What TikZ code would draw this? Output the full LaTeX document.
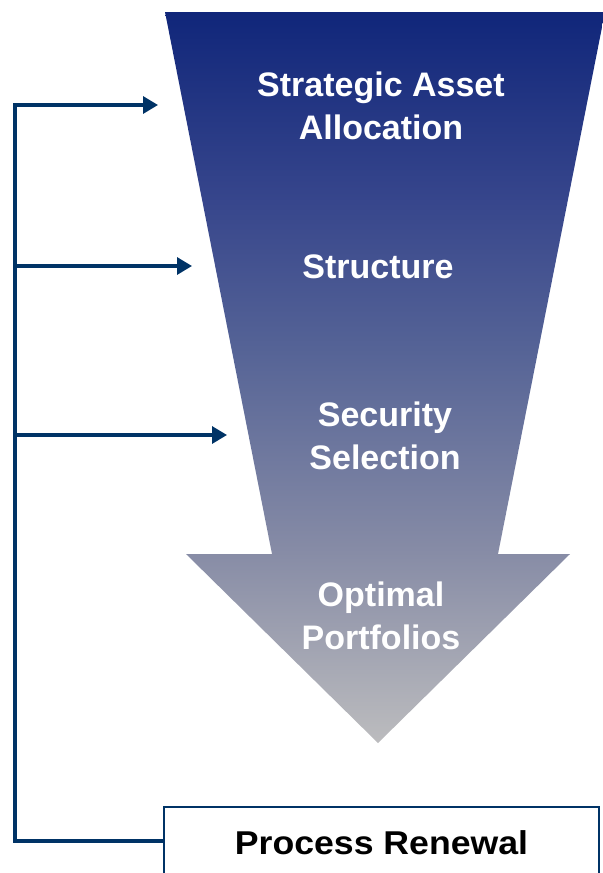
\documentclass[tikz,border=0pt]{standalone}
\usepackage{fontspec}
\setmainfont{Liberation Sans}
\newfontfamily\widefont[FakeStretch=1.08]{Liberation Sans}
\usetikzlibrary{arrows.meta,positioning}

\definecolor{navy}{RGB}{0,51,102}
\definecolor{ftop}{RGB}{16,38,122}
\definecolor{fupper}{RGB}{55,70,140}
\definecolor{fmiddle}{RGB}{85,99,150}
\definecolor{flower}{RGB}{135,140,166}
\definecolor{fbottom}{RGB}{188,188,190}

% vertical fade of the funnel, from dark blue at the top to grey at the tip
\pgfdeclareverticalshading{funnel}{100bp}{color(0bp)=(fbottom); color(25bp)=(fbottom);
  color(38bp)=(flower); color(52bp)=(fmiddle); color(62bp)=(fupper);
  color(75bp)=(ftop); color(100bp)=(ftop)}

\tikzset{x=0.5pt, y=-0.5pt, % one unit is one pixel, y runs downwards
>={Triangle[length=7.5pt,width=8.5pt]}, % filled heads on the feedback arrows
stage/.style={text=white, font=\fontsize{17}{21.5}\selectfont\bfseries, align=center, anchor=base}, % labels inside the funnel, placed by their last baseline
feedback/.style={->, draw=navy, line width=1.6pt}, % lines coming back from the renewal box
renewbox/.style={draw=navy, line width=1pt, fill=white, minimum width=217.5pt, minimum height=36pt,
  font=\widefont\fontsize{16.5}{19}\selectfont\bfseries}, % box at the bottom
}

\begin{document}
\begin{tikzpicture}
\useasboundingbox (0,0) rectangle (603,873);

% funnel with its arrow head
\shade[shading=funnel] (165,12) -- (605,12) -- (498,554) -- (570,554) -- (378,743)
  -- (186,554) -- (272,554) -- cycle;

\node[stage] (saa) at (381,139) {Strategic Asset\\Allocation};
\node[stage] (struct) at (378,278) {Structure};
\node[stage] (sel) at (385,469) {Security\\Selection};
\node[stage] (opt) at (381,649) {Optimal\\Portfolios};

\node[renewbox] (renew) at (381.5,843) {Process Renewal};

% arrow ends and the rail on the left
\coordinate (in1) at (158,105);
\coordinate (in2) at (192,266);
\coordinate (in3) at (227,435);
\coordinate (rail) at (15,105);

\draw[feedback] ([yshift=1pt]renew.west) -| (rail) -- (in1);
\draw[feedback] (rail |- in2) -- (in2);
\draw[feedback] (rail |- in3) -- (in3);
\end{tikzpicture}
\end{document}
